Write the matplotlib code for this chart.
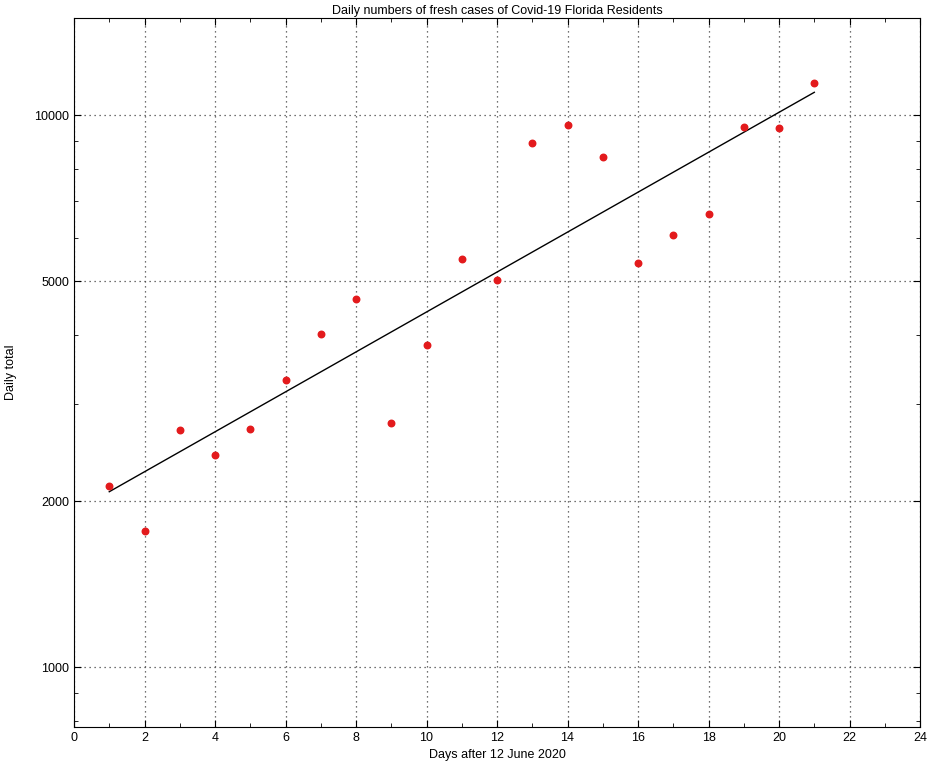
import matplotlib
matplotlib.use("Agg")
import matplotlib.pyplot as plt
import numpy as np
from matplotlib.ticker import FixedLocator, NullFormatter, MultipleLocator

plt.rcParams['font.family'] = ['Liberation Sans', 'DejaVu Sans']
plt.rcParams['font.size'] = 9

days = np.arange(1, 22)
cases = [2128, 1763, 2687, 2421, 2699, 3311, 4012, 4642, 2767, 3831, 5484,
         5025, 8897, 9592, 8392, 5395, 6062, 6616, 9512, 9472, 11428]

fig = plt.figure(figsize=(9.38, 7.73), dpi=100)
ax = fig.add_axes([0.0789, 0.0595, 0.902, 0.9172])
ax.set_yscale('log')
ax.scatter(days, cases, color='#e31a1c', s=22, zorder=3)
coef = np.polyfit(days, np.log10(cases), 1)
xf = np.array([1, 21])
ax.plot(xf, 10 ** np.polyval(coef, xf), color='black', lw=1)

ax.set_xlim(0, 24)
ax.set_ylim(780, 15000)
ax.xaxis.set_major_locator(MultipleLocator(2))
ax.xaxis.set_minor_locator(MultipleLocator(1))
ax.yaxis.set_major_locator(FixedLocator([1000, 2000, 5000, 10000]))
ax.yaxis.set_major_formatter(matplotlib.ticker.FuncFormatter(lambda v, p: f"{int(v)}"))
ax.yaxis.set_minor_locator(FixedLocator([800, 900, 3000, 4000, 6000, 7000, 8000, 9000]))
ax.yaxis.set_minor_formatter(NullFormatter())
ax.tick_params(which='both', direction='in', top=True, right=True)
ax.tick_params(which='major', length=5)
ax.tick_params(which='minor', length=3)
ax.grid(True, which='major', linestyle=(0, (1, 3)), color='#444444', lw=0.9)
ax.set_title('Daily numbers of fresh cases of Covid-19 Florida Residents', fontsize=9, pad=3)
ax.set_xlabel('Days after 12 June 2020')
ax.set_ylabel('Daily total', labelpad=12)
fig.savefig('out.png')
